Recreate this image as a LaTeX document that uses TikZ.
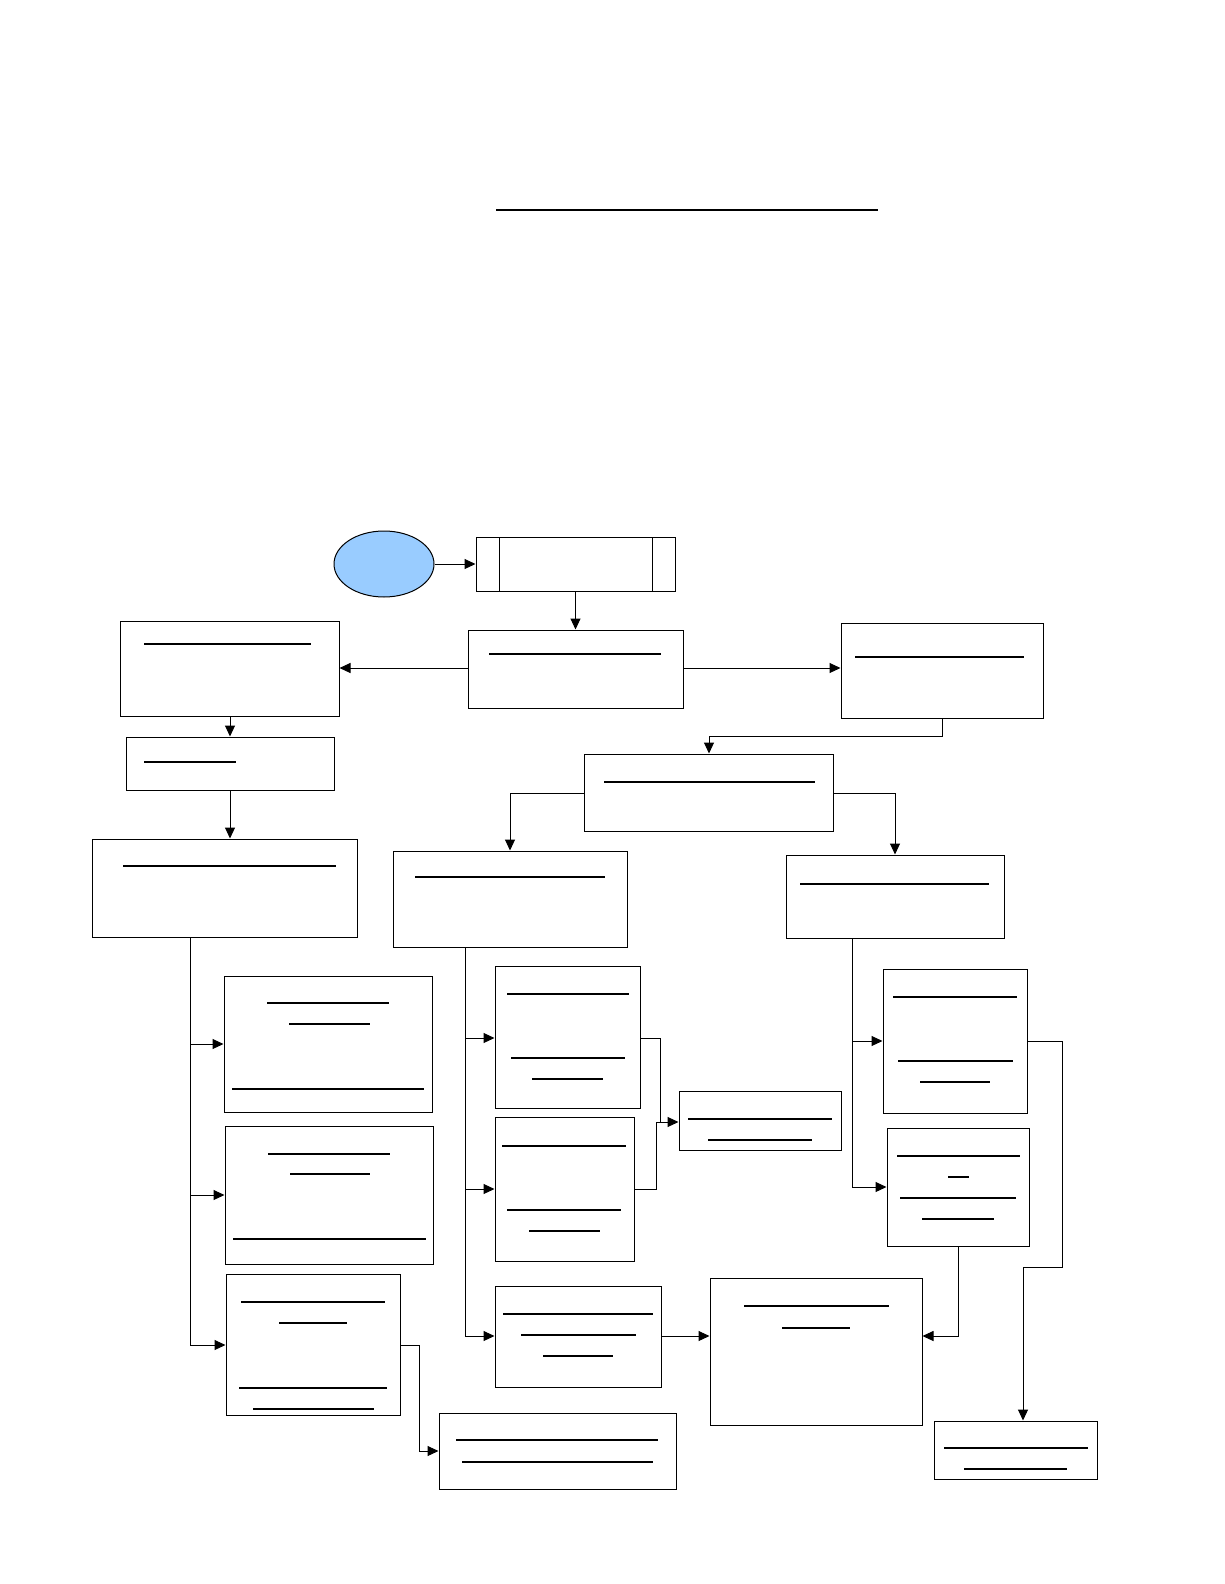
\documentclass[tikz,border=0pt]{standalone}
\usetikzlibrary{arrows.meta,fit,shapes.geometric}
\definecolor{ovalblue}{RGB}{153,204,255}
\tikzset{
 box/.style={draw,line width=1pt,inner sep=0pt},
 ul/.style={line width=1.1pt},
 conn/.style={line width=1pt},
 arr/.style={conn,-{Triangle[length=11pt,width=10pt]}}
}
\begin{document}
\begin{tikzpicture}[x=1pt,y=-1pt]
\useasboundingbox (0,0) rectangle (1224,1584);
\draw[ul] (496,210) -- (878,210);
\node[draw,line width=1pt,fill=ovalblue,ellipse,minimum width=100pt,minimum height=66pt,inner sep=0] (S) at (384,564) {};
\node[box,fit={(476,537)(675,591)}] (P) {};
\draw[line width=1pt] (499,537)--(499,591) (652,537)--(652,591);
\node[box,fit={(468,630)(683,708)}] (B1) {};
\node[box,fit={(120,621)(339,716)}] (L1) {};
\node[box,fit={(841,623)(1043,718)}] (R1) {};
\node[box,fit={(126,737)(334,790)}] (L2) {};
\node[box,fit={(584,754)(833,831)}] (M1) {};
\node[box,fit={(92,839)(357,937)}] (L3) {};
\node[box,fit={(393,851)(627,947)}] (M2) {};
\node[box,fit={(786,855)(1004,938)}] (R2) {};
\node[box,fit={(224,976)(432,1112)}] (L4) {};
\node[box,fit={(225,1126)(433,1264)}] (L5) {};
\node[box,fit={(226,1274)(400,1415)}] (L6) {};
\node[box,fit={(495,966)(640,1108)}] (M3) {};
\node[box,fit={(495,1117)(634,1261)}] (M4) {};
\node[box,fit={(495,1286)(661,1387)}] (M5) {};
\node[box,fit={(679,1091)(841,1150)}] (C1) {};
\node[box,fit={(710,1278)(922,1425)}] (C2) {};
\node[box,fit={(883,969)(1027,1113)}] (R3) {};
\node[box,fit={(887,1128)(1029,1246)}] (R4) {};
\node[box,fit={(439,1413)(676,1489)}] (L7) {};
\node[box,fit={(934,1421)(1097,1479)}] (R5) {};
% text placeholder lines
\draw[ul] (489,654)--(661,654) (144,644)--(311,644) (855,657)--(1024,657)
 (144,762)--(236,762) (604,782)--(815,782) (123,866)--(336,866)
 (415,877)--(605,877) (800,884)--(989,884)
 (267,1003)--(389,1003) (289,1024)--(370,1024) (232,1089)--(424,1089)
 (268,1154)--(390,1154) (290,1174)--(370,1174) (233,1239)--(426,1239)
 (241,1302)--(385,1302) (279,1323)--(347,1323) (239,1388)--(387,1388) (253,1409)--(374,1409)
 (507,994)--(629,994) (511,1058)--(625,1058) (532,1079)--(603,1079)
 (502,1146)--(626,1146) (507,1210)--(621,1210) (529,1231)--(600,1231)
 (503,1314)--(653,1314) (521,1335)--(636,1335) (543,1356)--(613,1356)
 (688,1119)--(832,1119) (708,1140)--(812,1140)
 (744,1306)--(889,1306) (782,1328)--(850,1328)
 (893,997)--(1017,997) (898,1061)--(1013,1061) (920,1082)--(990,1082)
 (897,1156)--(1020,1156) (948,1177)--(969,1177) (900,1198)--(1016,1198) (922,1219)--(994,1219)
 (456,1440)--(658,1440) (462,1462)--(653,1462)
 (944,1448)--(1088,1448) (964,1469)--(1067,1469);
% connectors
\draw[arr] (S) -- (P);
\draw[arr] (P.south) -- (B1.north);
\draw[arr] (468,668) -- (L1.east|-0,668);
\draw[arr] (683,668) -- (R1.west|-0,668);
\draw[arr] (L1.south-|230,0) -- (L2.north-|230,0);
\draw[arr] (R1.south) |- (709,736) -- (M1.north-|709,0);
\draw[arr] (L2.south-|230,0) -- (L3.north-|230,0);
\draw[arr] (M1.west|-0,793) -| (M2.north-|510,0);
\draw[arr] (M1.east|-0,793) -| (R2.north-|895,0);
\draw[conn] (L3.south-|190,0) -- (190,1345);
\draw[arr] (190,1044) -- (L4.west|-0,1044);
\draw[arr] (190,1195) -- (L5.west|-0,1195);
\draw[arr] (190,1345) -- (L6.west|-0,1345);
\draw[conn] (M2.south-|465,0) -- (465,1336);
\draw[arr] (465,1038) -- (M3.west|-0,1038);
\draw[arr] (465,1189) -- (M4.west|-0,1189);
\draw[arr] (465,1336) -- (M5.west|-0,1336);
\draw[conn] (M3.east|-0,1038) -| (660,1122);
\draw[conn] (M4.east|-0,1189) -| (656,1122);
\draw[arr] (656,1122) -- (C1.west|-0,1122);
\draw[arr] (M5.east|-0,1336) -- (C2.west|-0,1336);
\draw[conn] (R2.south-|852,0) -- (852,1187);
\draw[arr] (852,1041) -- (R3.west|-0,1041);
\draw[arr] (852,1187) -- (R4.west|-0,1187);
\draw[arr] (R4.south-|958,0) |- (C2.east|-0,1336);
\draw[arr] (R3.east|-0,1041) -| (1062,1267) -| (R5.north-|1023,0);
\draw[arr] (L6.east|-0,1345) -| (419,1451) -- (L7.west|-0,1451);
\end{tikzpicture}
\end{document}
